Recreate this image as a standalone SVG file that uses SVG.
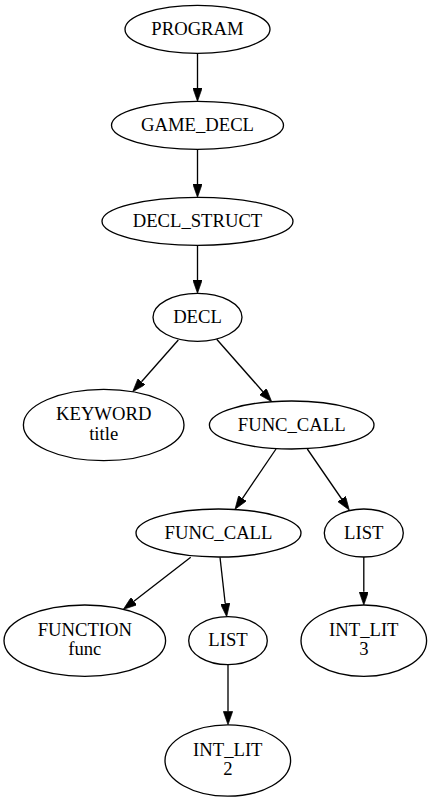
<svg xmlns="http://www.w3.org/2000/svg" width="432" height="803" viewBox="0 0 432 803">
<style>
.n ellipse{fill:none;stroke:#000;stroke-width:1.33}
.n text{font-family:"Liberation Serif","Times New Roman",serif;font-size:18.67px;text-anchor:middle;fill:#000}
#edges line{stroke:#000;stroke-width:1.33;marker-end:url(#ah)}
</style>
<defs>
<marker id="ah" viewBox="0 0 10 7" refX="0" refY="3.5" markerUnits="userSpaceOnUse" markerWidth="13.33" markerHeight="9.33" orient="auto">
<path d="M0,0 L10,3.5 L0,7 z" fill="#000" stroke="#000" stroke-width="0.5"/>
</marker>
</defs>
<rect width="432" height="803" fill="#fff"/>
<g id="edges">
<line x1="197.5" y1="53.3" x2="197.5" y2="88"/>
<line x1="197.5" y1="149.3" x2="197.5" y2="184"/>
<line x1="197.5" y1="245.3" x2="197.5" y2="280"/>
<line x1="178.3" y1="340" x2="141.5" y2="381.7"/>
<line x1="216.7" y1="339.3" x2="262.9" y2="391.7"/>
<line x1="276" y1="449" x2="242.5" y2="498.3"/>
<line x1="307.3" y1="449" x2="341.7" y2="499"/>
<line x1="190.7" y1="557.3" x2="133.9" y2="601.2"/>
<line x1="220" y1="557.3" x2="225.2" y2="603.5"/>
<line x1="363.8" y1="557" x2="363.8" y2="591.7"/>
<line x1="228" y1="664.7" x2="228" y2="711.5"/>
</g>
<g id="program" class="n"><ellipse cx="197.5" cy="29.3" rx="72.5" ry="24"/><text x="197.5" y="34.9">PROGRAM</text></g>
<g id="game_decl" class="n"><ellipse cx="197.5" cy="125.3" rx="86" ry="24"/><text x="197.5" y="130.9">GAME_DECL</text></g>
<g id="decl_struct" class="n"><ellipse cx="197.5" cy="221.3" rx="95.5" ry="24"/><text x="197.5" y="226.9">DECL_STRUCT</text></g>
<g id="decl" class="n"><ellipse cx="197.5" cy="317.3" rx="44.5" ry="24"/><text x="197.5" y="322.9">DECL</text></g>
<g id="keyword" class="n"><ellipse cx="103.7" cy="425" rx="80.3" ry="35.7"/><text x="103.7" y="420">KEYWORD</text><text x="103.7" y="439.5">title</text></g>
<g id="func_call1" class="n"><ellipse cx="291.7" cy="425" rx="82.3" ry="24"/><text x="291.7" y="430.6">FUNC_CALL</text></g>
<g id="func_call2" class="n"><ellipse cx="218.5" cy="533" rx="82.5" ry="24"/><text x="218.5" y="538.6">FUNC_CALL</text></g>
<g id="list1" class="n"><ellipse cx="363.8" cy="533" rx="39.5" ry="24"/><text x="363.8" y="538.6">LIST</text></g>
<g id="function" class="n"><ellipse cx="84.8" cy="640.7" rx="80.8" ry="35.7"/><text x="84.8" y="635.7">FUNCTION</text><text x="84.8" y="655.2">func</text></g>
<g id="list2" class="n"><ellipse cx="228" cy="640.7" rx="39.3" ry="24"/><text x="228" y="646.3">LIST</text></g>
<g id="int_lit3" class="n"><ellipse cx="363.8" cy="640.7" rx="62.8" ry="35.7"/><text x="363.8" y="635.7">INT_LIT</text><text x="363.8" y="655.2">3</text></g>
<g id="int_lit2" class="n"><ellipse cx="227.8" cy="760.5" rx="62.8" ry="35.7"/><text x="227.8" y="755.5">INT_LIT</text><text x="227.8" y="775">2</text></g>
</svg>
